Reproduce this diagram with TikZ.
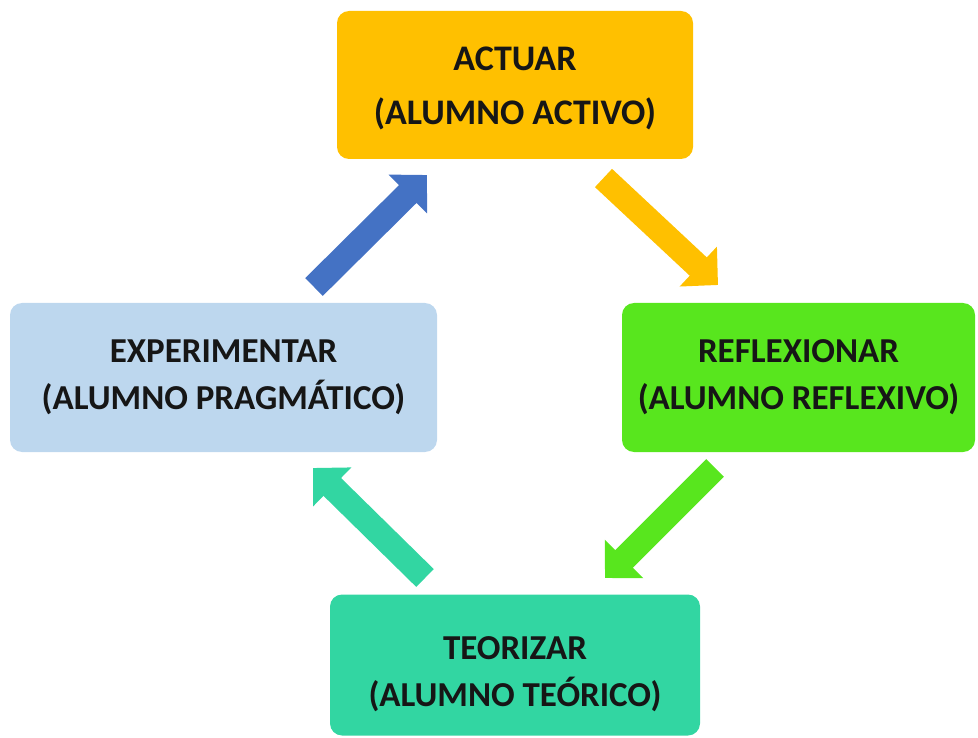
\documentclass[tikz,border=0pt]{standalone}
\usepackage{fontspec}
\setmainfont{Carlito}
\usetikzlibrary{arrows.meta}
\definecolor{actuarfill}{RGB}{255,192,0}
\definecolor{expfill}{RGB}{189,215,238}
\definecolor{reflfill}{RGB}{88,230,30}
\definecolor{teorfill}{RGB}{50,214,162}
\definecolor{bluearrow}{RGB}{68,114,196}
\definecolor{labeltext}{RGB}{22,22,22}
\begin{document}
\begin{tikzpicture}[x=1pt,y=-1pt,
  stagebox/.style={rounded corners=12pt, inner sep=0pt, align=center,
    text=labeltext, font=\bfseries\fontsize{35}{47}\selectfont},
  flow/.style={line width=25pt, -{Triangle[length=27pt,width=53pt]}}]
\useasboundingbox (0,0) rectangle (978,738);

% the four stages of the cycle (a strut on the first line lowers the text a little)
\node[stagebox, fill=actuarfill, minimum width=356pt, minimum height=148pt,
      font=\bfseries\fontsize{36}{54}\selectfont] (act) at (515,85)
  {\rule{0pt}{30pt}ACTUAR\\(ALUMNO ACTIVO)};
\node[stagebox, fill=reflfill, minimum width=353pt, minimum height=149pt] (refl) at (798.5,377.5)
  {REFLEXIONAR\\(ALUMNO REFLEXIVO)};
\node[stagebox, fill=teorfill, minimum width=370pt, minimum height=141pt] (teor) at (515,665)
  {\rule{0pt}{41pt}TEORIZAR\\(ALUMNO TEÓRICO)};
\node[stagebox, fill=expfill, minimum width=427pt, minimum height=149pt] (exp) at (223.5,377.5)
  {EXPERIMENTAR\\(ALUMNO PRAGMÁTICO)};

% arrow ends between the stages
\coordinate (expout) at (314,287);
\coordinate (actin) at (427,175);
\coordinate (actout) at (603.5,178);
\coordinate (reflin) at (718,285);
\coordinate (reflout) at (715,468);
\coordinate (teorin) at (605,578);
\coordinate (teorout) at (425,578);
\coordinate (expin) at (313,468);

% block arrows running clockwise
\draw[flow, bluearrow] (expout) -- (actin);
\draw[flow, actuarfill] (actout) -- (reflin);
\draw[flow, reflfill] (reflout) -- (teorin);
\draw[flow, teorfill] (teorout) -- (expin);
\end{tikzpicture}
\end{document}
